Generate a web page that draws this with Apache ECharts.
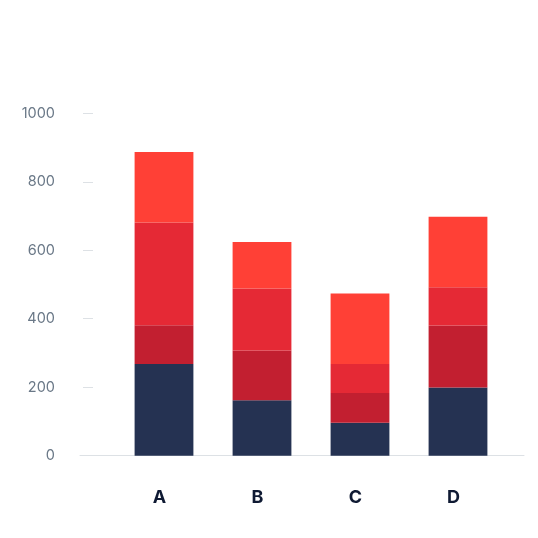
<!DOCTYPE html>
<html><head><meta charset="utf-8">
<script src="https://cdn.jsdelivr.net/npm/echarts@6/dist/echarts.min.js"></script>
<style>html,body{margin:0;padding:0;background:#fff}#c{width:538px;height:538px}</style>
</head><body><div id="c"></div>
<script>
var categories = ['A', 'B', 'C', 'D'];
var series1 = [268, 162, 96, 199];
var series2 = [113, 145, 87, 181];
var series3 = [300, 181, 85, 112];
var series4 = [206, 136, 206, 206];
var yTicks = [0, 200, 400, 600, 800, 1000];

var colors = ['#253252', '#c21f30', '#e52935', '#ff4036'];
var data = [series1, series2, series3, series4];
var chart = echarts.init(document.getElementById('c'), null, {renderer: 'canvas'});
var font = 'Inter, "Noto Sans", sans-serif';
chart.setOption({
  animation: false,
  grid: [
    {left: 115, right: 31, top: 113.3, bottom: 82.3},
    {left: 80, right: 14, top: 113.3, bottom: 82.3}
  ],
  xAxis: [
    {type: 'category', data: categories, gridIndex: 0,
     axisLine: {show: false}, axisTick: {show: false},
     axisLabel: {margin: 33, fontSize: 18, fontWeight: 'bold', color: '#0f1a33', fontFamily: font,
       padding: [0, 9, 0, 0]}},
    {type: 'value', gridIndex: 1, min: 0, max: 1, show: true,
     axisLine: {show: true, lineStyle: {color: '#dde1e5', width: 1}},
     axisTick: {show: false}, axisLabel: {show: false}, splitLine: {show: false}}
  ],
  yAxis: [
    {type: 'value', gridIndex: 0, min: 0, max: 1000, interval: 200, offset: 22,
     axisLine: {show: false},
     axisTick: {show: true, length: 10, lineStyle: {color: '#dde1e5'}},
     splitLine: {show: false},
     axisLabel: {margin: 38, fontSize: 14.5, color: '#6a7887', fontFamily: font,
       formatter: function (v) { return yTicks.indexOf(v) >= 0 ? String(v) : ''; }}},
    {type: 'value', gridIndex: 1, min: 0, max: 1000, show: false}
  ],
  series: data.map(function (d, i) {
    return {type: 'bar', stack: 'total', data: d, xAxisIndex: 0, yAxisIndex: 0,
      barWidth: '60%',
      itemStyle: {color: colors[i], borderWidth: 0}};
  })
});
</script></body></html>
